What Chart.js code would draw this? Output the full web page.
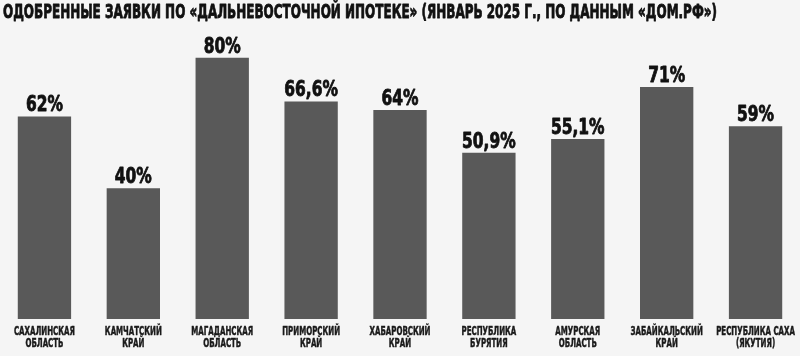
<!DOCTYPE html>
<html>
<head>
<meta charset="utf-8">
<script src="https://cdn.jsdelivr.net/npm/chart.js@4.4.1/dist/chart.umd.min.js"></script>
<style>
html,body{margin:0;padding:0;background:#f5f5f5;}
#wrap{width:800px;height:356px;position:relative;}
</style>
</head>
<body>
<div id="wrap"><canvas id="c" width="800" height="356"></canvas></div>
<script>
const titleText = 'ОДОБРЕННЫЕ ЗАЯВКИ ПО «ДАЛЬНЕВОСТОЧНОЙ ИПОТЕКЕ» (ЯНВАРЬ 2025 Г., ПО ДАННЫМ «ДОМ.РФ»)';
const categories = [
  ['САХАЛИНСКАЯ', 'ОБЛАСТЬ'],
  ['КАМЧАТСКИЙ', 'КРАЙ'],
  ['МАГАДАНСКАЯ', 'ОБЛАСТЬ'],
  ['ПРИМОРСКИЙ', 'КРАЙ'],
  ['ХАБАРОВСКИЙ', 'КРАЙ'],
  ['РЕСПУБЛИКА', 'БУРЯТИЯ'],
  ['АМУРСКАЯ', 'ОБЛАСТЬ'],
  ['ЗАБАЙКАЛЬСКИЙ', 'КРАЙ'],
  ['РЕСПУБЛИКА САХА', '(ЯКУТИЯ)']
];
const approvedShare = [62, 40, 80, 66.6, 64, 50.9, 55.1, 71, 59];

const FAMILY = "'DejaVu Sans Condensed', 'DejaVu Sans', sans-serif";
const TITLE_FONT = {family: FAMILY, size: 20, weight: 'bold', lineHeight: 1.2};
const TICK_FONT = {family: FAMILY, size: 13, weight: 'bold', lineHeight: 0.95};
const VALUE_FONT = {family: FAMILY, size: 21, weight: 'bold'};

function fontStr(f){ return (f.weight ? f.weight + ' ' : '') + f.size + 'px ' + f.family; }

// horizontal condensing factors to imitate the narrow display face of the reference
const factors = {};
const shifts = {};
const strokes = {};
(function(){
  const m = document.createElement('canvas').getContext('2d');
  function reg(f, sample, target, dx, sw){
    m.font = fontStr(f);
    const key = m.font;
    factors[key] = target / m.measureText(sample).width;
    shifts[key] = dx || 0;
    strokes[key] = sw || 0;
  }
  reg(TITLE_FONT, titleText, 714, 3, 0.8);
  reg(TICK_FONT, 'САХАЛИНСКАЯ', 61, 0, 0.5);
  reg(VALUE_FONT, '62%', 37, 0, 0.8);
})();

const condensePlugin = {
  id: 'condense',
  beforeDraw(chart){
    const ctx = chart.ctx;
    ctx.save();
    ctx.fillStyle = '#f5f5f5';
    ctx.fillRect(0, 0, chart.width, chart.height);
    ctx.restore();
    const orig = CanvasRenderingContext2D.prototype.fillText;
    const origStroke = CanvasRenderingContext2D.prototype.strokeText;
    ctx.fillText = function(t, x, y, mw){
      const key = this.font;
      const k = factors[key];
      if (!k) { return mw === undefined ? orig.call(this, t, x, y) : orig.call(this, t, x, y, mw); }
      this.save();
      this.translate(x + (shifts[key] || 0), y);
      this.scale(k, 1);
      if (mw === undefined) orig.call(this, t, 0, 0); else orig.call(this, t, 0, 0, mw / k);
      if (strokes[key]) {
        this.strokeStyle = this.fillStyle;
        this.lineWidth = strokes[key];
        this.lineJoin = 'round';
        if (mw === undefined) origStroke.call(this, t, 0, 0); else origStroke.call(this, t, 0, 0, mw / k);
      }
      this.restore();
    };
  },
  afterDatasetsDraw(chart){
    const ctx = chart.ctx;
    const meta = chart.getDatasetMeta(0);
    ctx.save();
    ctx.font = fontStr(VALUE_FONT);
    ctx.fillStyle = '#111111';
    ctx.textAlign = 'center';
    ctx.textBaseline = 'alphabetic';
    meta.data.forEach((bar, i) => {
      const v = approvedShare[i];
      const txt = String(v).replace('.', ',') + '%';
      ctx.fillText(txt, bar.x, bar.y - 5);
    });
    ctx.restore();
  },
  afterDraw(chart){
    delete chart.ctx.fillText;
  }
};

new Chart(document.getElementById('c'), {
  type: 'bar',
  data: {
    labels: categories,
    datasets: [{
      data: approvedShare,
      backgroundColor: '#595959',
      borderWidth: 0,
      categoryPercentage: 1,
      barPercentage: 0.6
    }]
  },
  options: {
    responsive: false,
    animation: false,
    devicePixelRatio: 1,
    layout: {padding: {left: 0, right: 0, top: 0, bottom: 6}},
    plugins: {
      legend: {display: false},
      tooltip: {enabled: false},
      title: {
        display: true,
        text: titleText,
        align: 'start',
        color: '#111111',
        font: TITLE_FONT,
        padding: {top: 1, bottom: 0}
      }
    },
    scales: {
      x: {
        grid: {display: false, drawTicks: false},
        border: {display: false},
        ticks: {
          color: '#1a1a1a',
          font: TICK_FONT,
          padding: 6,
          autoSkip: false,
          maxRotation: 0,
          minRotation: 0
        },
        afterFit(scale){
          scale.height = 31;
          scale.paddingLeft = 0;
          scale.paddingRight = 0;
        }
      },
      y: {
        display: false,
        min: 0,
        max: 90
      }
    }
  },
  plugins: [condensePlugin]
});
</script>
</body>
</html>
